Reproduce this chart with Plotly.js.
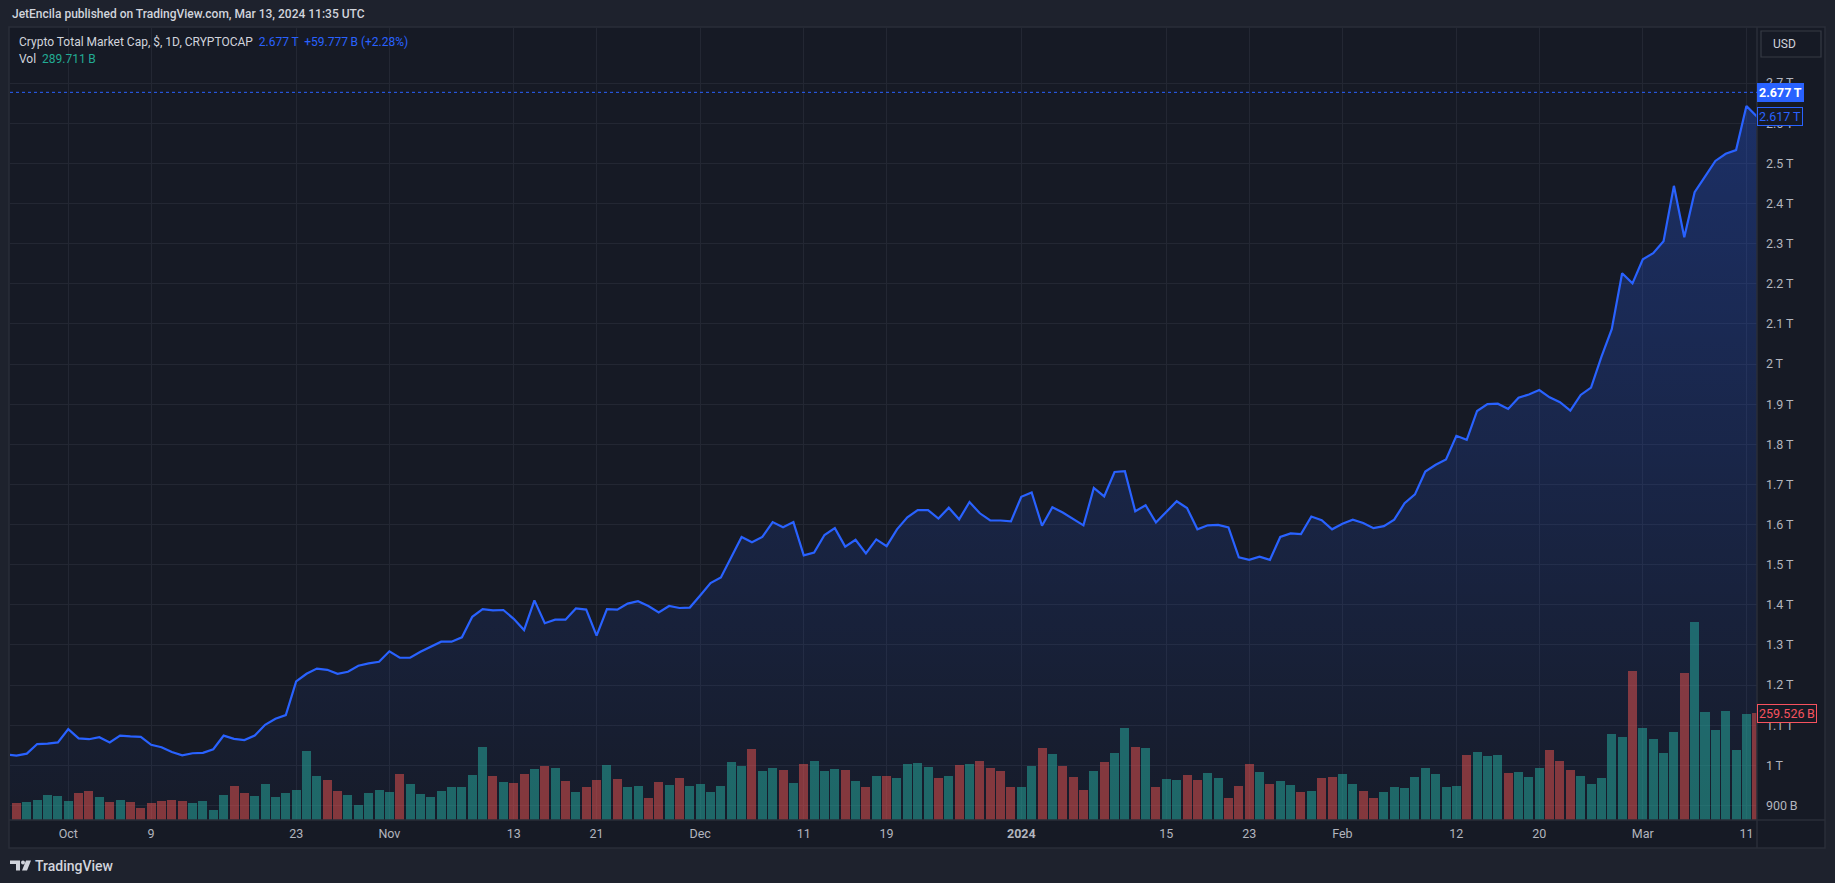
<!DOCTYPE html>
<html>
<head>
<meta charset="utf-8">
<script src="https://cdn.plot.ly/plotly-3.0.1.min.js"></script>
<style>
html,body{margin:0;padding:0;background:#1e222d;overflow:hidden}
#chart{width:1835px;height:883px}
</style>
</head>
<body>
<div id="chart"></div>
<script>
// ---------- DATA ----------
const START_DATE = '2023-09-25';   // first daily point, one per day
// Crypto total market cap, daily close, trillions USD
const capTrillions = [
  1.027,1.024,1.029,1.053,1.054,1.057,                                   // Sep 25-30
  1.090,1.067,1.065,1.070,1.057,1.074,1.072,1.071,1.051,1.045,1.033,1.025,1.030,1.031,1.040,1.074,
  1.066,1.063,1.074,1.101,1.116,1.125,1.209,1.228,1.241,1.238,1.228,1.233,1.248,1.254,1.258,   // Oct
  1.284,1.268,1.268,1.283,1.295,1.308,1.308,1.319,1.370,1.389,1.386,1.387,1.365,1.337,1.411,
  1.354,1.363,1.363,1.391,1.388,1.323,1.389,1.388,1.403,1.409,1.397,1.381,1.397,1.392,1.393,   // Nov
  1.423,1.454,1.468,1.519,1.569,1.556,1.569,1.606,1.593,1.606,1.523,1.530,1.574,1.591,1.545,1.562,
  1.528,1.563,1.546,1.588,1.618,1.636,1.636,1.615,1.642,1.613,1.656,1.628,1.610,1.610,1.608,   // Dec
  1.669,1.680,1.597,1.643,1.630,1.613,1.598,1.691,1.670,1.731,1.733,1.633,1.648,1.605,1.632,1.658,
  1.641,1.588,1.598,1.599,1.593,1.518,1.512,1.520,1.512,1.569,1.578,1.576,1.620,1.611,1.588,   // Jan
  1.602,1.612,1.604,1.591,1.596,1.612,1.653,1.675,1.732,1.749,1.762,1.821,1.811,1.883,1.900,
  1.901,1.888,1.916,1.924,1.935,1.917,1.905,1.884,1.923,1.941,2.018,2.087,2.226,2.201,         // Feb
  2.261,2.276,2.306,2.444,2.316,2.428,2.467,2.506,2.524,2.533,2.643,2.617,2.677                 // Mar 1-13
];
// Daily volume, billions USD
const volBillions = [
  null,41.3,43.8,48.6,60.8,58.4,
  46.2,65.7,70.5,55.9,43.8,48.6,43.8,29.2,41.3,46.2,48.6,46.2,41.3,46.2,24.3,60.8,
  82.7,65.7,58.4,87.6,55.9,65.7,73.0,167.8,107.0,97.3,70.5,60.8,36.5,65.7,73.0,
  68.1,111.9,87.6,63.2,55.9,70.5,80.3,80.3,109.4,177.5,107.0,92.4,90.0,111.9,124.0,
  131.3,126.5,94.9,68.1,80.3,97.3,133.8,99.7,80.3,82.7,53.5,92.4,85.1,102.1,82.7,
  87.6,68.1,82.7,141.0,131.3,172.7,119.2,126.5,121.6,90.0,136.2,143.5,119.2,124.0,121.6,94.9,
  80.3,107.0,107.0,102.1,136.2,138.6,128.9,102.1,107.0,133.8,136.2,143.5,126.5,119.2,80.3,
  80.3,131.3,175.1,160.5,131.3,104.6,73.0,119.2,141.1,163.0,223.8,177.5,175.1,80.3,99.7,97.3,
  109.4,97.3,114.3,102.1,53.5,82.7,136.2,116.7,87.6,94.9,85.1,68.1,70.5,102.1,104.6,
  111.9,87.6,70.5,53.5,68.1,80.3,77.8,104.6,126.5,111.9,80.3,82.7,158.1,165.4,155.7,
  158.1,114.3,116.7,104.6,126.5,170.2,143.5,121.6,107.0,87.6,102.1,209.2,201.9,362.4,
  223.8,197.0,163.0,214.0,357.5,481.6,262.7,218.9,265.1,170.2,257.8,259.526,289.711
];
// Volume bar direction: u = up day (teal), d = down day (red)
const volDirection = [
  null,'d','u','u','u','u',
  'u','d','d','u','d','u','d','d','d','d','d','d','u','u','u','u',
  'd','d','u','u','u','u','u','u','u','d','d','u','u','u','u',
  'u','d','u','u','u','u','u','u','u','u','d','u','d','d','u',
  'd','u','d','u','d','d','u','d','u','u','d','d','u','d','u',
  'u','u','u','u','u','d','u','u','d','u','d','u','u','u','d','u',
  'd','u','d','u','u','u','u','d','u','d','u','d','d','d','d',
  'u','u','d','u','d','d','d','u','d','u','u','d','u','d','u','u',
  'd','d','u','u','d','d','d','u','d','u','u','d','u','d','d',
  'u','u','d','d','u','u','u','u','u','u','u','u','d','u','u',
  'u','d','u','u','u','d','d','d','u','u','u','u','u','d',
  'u','u','u','u','d','u','u','u','u','u','u','d','u'
];
// Axis ticks
const xTickVals = ['2023-10-01','2023-10-09','2023-10-23','2023-11-01','2023-11-13','2023-11-21',
  '2023-12-01','2023-12-11','2023-12-19','2024-01-01','2024-01-15','2024-01-23','2024-02-01',
  '2024-02-12','2024-02-20','2024-03-01','2024-03-11'];
const xTickText = ['Oct','9','23','Nov','13','21','Dec','11','19','<b>2024</b>','15','23','Feb','12','20','Mar','11'];
const yTickVals = [0.9,1.0,1.1,1.2,1.3,1.4,1.5,1.6,1.7,1.8,1.9,2.0,2.1,2.2,2.3,2.4,2.5,2.6,2.7];
const yTickText = ['900\u2009B','1\u2009T','1.1\u2009T','1.2\u2009T','1.3\u2009T','1.4\u2009T','1.5\u2009T','1.6\u2009T',
  '1.7\u2009T','1.8\u2009T','1.9\u2009T','2\u2009T','2.1\u2009T','2.2\u2009T','2.3\u2009T','2.4\u2009T','2.5\u2009T','2.6\u2009T','2.7\u2009T'];
const lastPrice = 2.677, prevClose = 2.617, lastVolShown = 259.526;

// ---------- BUILD ----------
function dayList(start, n){
  const out=[]; const d=new Date(start+'T00:00:00Z');
  for(let i=0;i<n;i++){ out.push(d.toISOString().slice(0,10)); d.setUTCDate(d.getUTCDate()+1); }
  return out;
}
const dates = dayList(START_DATE, capTrillions.length);
const UP='rgba(38,166,154,0.55)', DOWN='rgba(239,83,80,0.5)';
const barColors = volDirection.map(c => c==='d' ? DOWN : UP);

// pixel helpers (plot area: x 10..1757, y 28..820)
const PL=10, PR=1757, PT=28, PB=820;
const px = x => (x-PL)/(PR-PL);
const py = y => (PB-y)/(PB-PT);
const FONT = 'Roboto, "Noto Sans", sans-serif';

const lineTrace = {
  type:'scatter', mode:'lines', x:dates, y:capTrillions, yaxis:'y',
  line:{color:'#2962ff', width:2.2},
  fill:'tozeroy',
  fillgradient:{type:'vertical', start:0.86, stop:2.65,
    colorscale:[[0,'rgba(41,98,255,0.02)'],[1,'rgba(41,98,255,0.30)']]},
  hoverinfo:'skip', showlegend:false
};
const volTrace = {
  type:'bar', x:dates, y:volBillions, yaxis:'y2',
  marker:{color:barColors, line:{width:0}},
  width:0.87*86400000, hoverinfo:'skip', showlegend:false
};

const shapes = [
  {type:'rect', xref:'paper', yref:'paper', x0:px(9), x1:px(1825), y0:py(848), y1:py(27),
   fillcolor:'#161a25', line:{color:'#2a2e39', width:1.5}, layer:'below'},
  {type:'line', xref:'paper', yref:'paper', x0:px(9), x1:px(1825), y0:py(820), y1:py(820),
   line:{color:'#2a2e39', width:1.5}},
  {type:'line', xref:'paper', yref:'paper', x0:px(1757), x1:px(1757), y0:py(848), y1:py(27),
   line:{color:'#2a2e39', width:1.5}},
  {type:'rect', xref:'paper', yref:'paper', x0:px(1761), x1:px(1821), y0:py(57), y1:py(31),
   fillcolor:'#161a25', line:{color:'#363a45', width:1.2}},
  {type:'line', xref:'paper', yref:'y', x0:0, x1:1, y0:lastPrice, y1:lastPrice,
   line:{color:'#2962ff', width:1, dash:'dot'}},
  // TradingView logo
  {type:'path', xref:'paper', yref:'paper', fillcolor:'#d1d4dc', line:{width:0},
   path:`M${px(10)},${py(860.5)} L${px(20)},${py(860.5)} L${px(20)},${py(870.5)} L${px(16)},${py(870.5)} L${px(16)},${py(864)} L${px(10)},${py(864)} Z`},
  {type:'circle', xref:'paper', yref:'paper', fillcolor:'#d1d4dc', line:{width:0},
   x0:px(21), x1:px(25), y0:py(864.5), y1:py(860.5)},
  {type:'path', xref:'paper', yref:'paper', fillcolor:'#d1d4dc', line:{width:0},
   path:`M${px(26)},${py(860.5)} L${px(31)},${py(860.5)} L${px(27)},${py(870.5)} L${px(22)},${py(870.5)} Z`}
];

const annotations = [
  {xref:'paper', yref:'paper', x:px(10), y:py(14.5), xanchor:'left', yanchor:'middle', showarrow:false,
   text:'JetEncila published on TradingView.com, Mar 13, 2024 11:35 UTC',
   font:{family:FONT, size:12, color:'#d1d4dc', weight:500}},
  {xref:'paper', yref:'paper', x:px(17), y:py(42.3), xanchor:'left', yanchor:'middle', showarrow:false,
   text:'Crypto Total Market Cap, $, 1D, CRYPTOCAP  <span style="color:#2962ff">2.677\u2009T  +59.777\u2009B (+2.28%)</span>',
   font:{family:FONT, size:12, color:'#d1d4dc'}},
  {xref:'paper', yref:'paper', x:px(17), y:py(58.7), xanchor:'left', yanchor:'middle', showarrow:false,
   text:'Vol  <span style="color:#22ab94">289.711\u2009B</span>',
   font:{family:FONT, size:12, color:'#d1d4dc'}},
  {xref:'paper', yref:'paper', x:px(1771), y:py(44), xanchor:'left', yanchor:'middle', showarrow:false,
   text:'USD', font:{family:FONT, size:12, color:'#d1d4dc'}},
  {xref:'paper', yref:'y', x:1, y:lastPrice, xanchor:'left', yanchor:'middle', showarrow:false,
   text:'<b>2.677\u2009T</b>', font:{family:FONT, size:12.5, color:'#ffffff'},
   bgcolor:'#2962ff', bordercolor:'#2962ff', borderwidth:1, borderpad:1},
  {xref:'paper', yref:'y', x:1, y:prevClose, xanchor:'left', yanchor:'middle', showarrow:false,
   text:'2.617\u2009T', font:{family:FONT, size:12.5, color:'#2962ff'},
   bgcolor:'#161a25', bordercolor:'#2962ff', borderwidth:1, borderpad:1},
  {xref:'paper', yref:'y2', x:1, y:lastVolShown, xanchor:'left', yanchor:'middle', showarrow:false,
   text:'259.526\u2009B', font:{family:FONT, size:12.5, color:'#f7525f'},
   bgcolor:'#161a25', bordercolor:'#f7525f', borderwidth:1, borderpad:1},
  {xref:'paper', yref:'paper', x:px(33), y:py(866), xanchor:'left', yanchor:'middle', showarrow:false,
   text:'TradingView', font:{family:FONT, size:14, color:'#d1d4dc', weight:500}}
];

const layout = {
  width:1835, height:883,
  margin:{l:PL, r:1835-PR, t:PT, b:883-PB, pad:0},
  paper_bgcolor:'#1e222d', plot_bgcolor:'rgba(0,0,0,0)',
  showlegend:false, bargap:0,
  font:{family:FONT, color:'#b2b5be', size:12},
  xaxis:{type:'date', range:['2023-09-25 09:00','2024-03-12 00:30'],
    tickvals:xTickVals, ticktext:xTickText, ticks:'', showline:false,
    showgrid:true, gridcolor:'#232733', gridwidth:1, zeroline:false,
    tickfont:{family:FONT, size:12.5, color:'#b2b5be'}, ticklabelstandoff:4, fixedrange:true},
  yaxis:{range:[0.8637, 2.8373], side:'right', tickvals:yTickVals, ticktext:yTickText,
    ticks:'', showline:false, showgrid:true, gridcolor:'#232733', gridwidth:1, zeroline:false,
    tickfont:{family:FONT, size:12.5, color:'#b2b5be'}, ticklabelstandoff:8, fixedrange:true},
  yaxis2:{overlaying:'y', range:[0, 1926], visible:false, showgrid:false, zeroline:false, fixedrange:true},
  shapes:shapes, annotations:annotations
};

Plotly.newPlot('chart', [lineTrace, volTrace], layout, {displayModeBar:false, staticPlot:true});
</script>
</body>
</html>
